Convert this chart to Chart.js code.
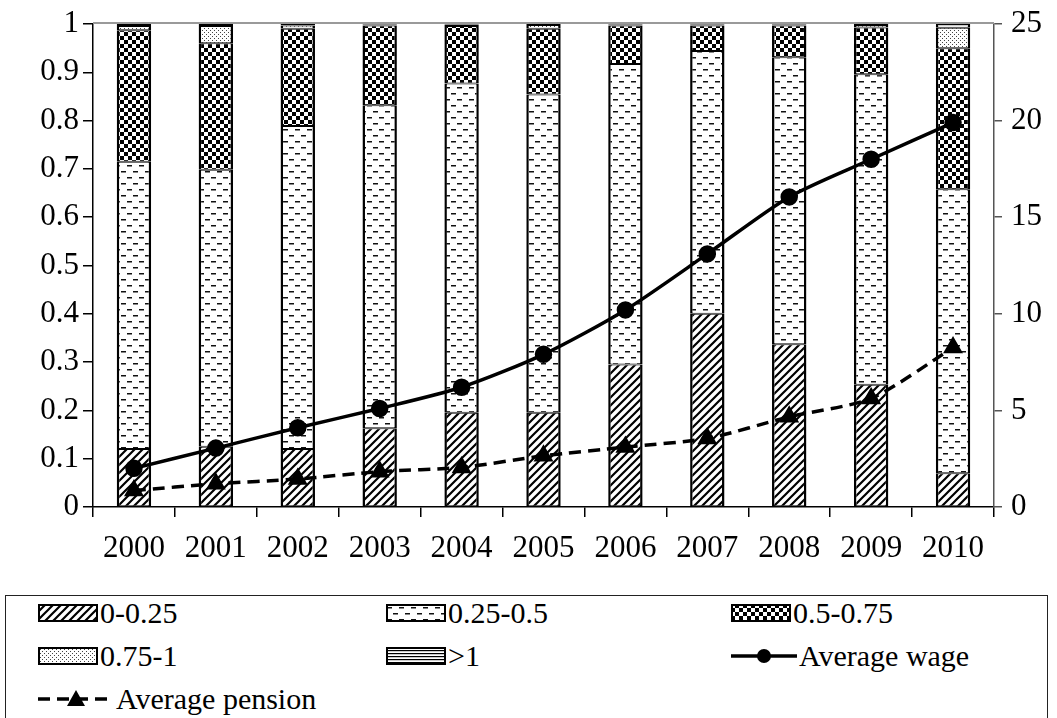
<!DOCTYPE html>
<html>
<head>
<meta charset="utf-8">
<script src="https://cdn.jsdelivr.net/npm/chart.js@4/dist/chart.umd.min.js"></script>
<style>
  html, body { margin: 0; padding: 0; background: #fff; }
  #wrap { position: relative; width: 1057px; height: 718px; overflow: hidden; background: #fff; }
  #chart { position: absolute; left: 0; top: 0; }
  #legend {
    position: absolute; left: 5px; top: 595px; width: 1043px; height: 140px;
    border: 1.5px solid #222; box-sizing: border-box;
    font-family: "Liberation Serif", "Times New Roman", serif; font-size: 30px; color: #000;
  }
  .item { position: absolute; display: flex; align-items: center; height: 30px; white-space: nowrap; }
  .item canvas { display: block; margin-right: 2px; }
</style>
</head>
<body>
<div id="wrap">
  <canvas id="chart" width="1057" height="575"></canvas>
  <div id="legend"></div>
</div>
<script>
// Years on the horizontal axis
const years = ['2000', '2001', '2002', '2003', '2004', '2005', '2006', '2007', '2008', '2009', '2010'];

// Share of people in each ratio band (stacked bars, left axis)
const band0to025   = [0.120, 0.125, 0.120, 0.163, 0.195, 0.195, 0.295, 0.400, 0.337, 0.253, 0.070];
const band025to05  = [0.595, 0.573, 0.669, 0.669, 0.682, 0.659, 0.622, 0.544, 0.594, 0.643, 0.588];
const band05to075  = [0.272, 0.262, 0.201, 0.165, 0.119, 0.136, 0.080, 0.053, 0.066, 0.097, 0.292];
const band075to1   = [0.009, 0.036, 0.007, 0.002, 0.003, 0.008, 0.002, 0.002, 0.002, 0.005, 0.042];
const bandAbove1   = [0.004, 0.004, 0.003, 0.001, 0.001, 0.002, 0.001, 0.001, 0.001, 0.002, 0.008];

// Average wage and pension (lines, right axis)
const avgWage    = [2.0, 3.05, 4.1, 5.1, 6.2, 7.9, 10.2, 13.1, 16.05, 18.0, 19.9];
const avgPension = [0.85, 1.2, 1.45, 1.83, 2.05, 2.65, 3.1, 3.55, 4.67, 5.62, 8.25];

// Tick labels
const leftTickLabels  = ['0', '0.1', '0.2', '0.3', '0.4', '0.5', '0.6', '0.7', '0.8', '0.9', '1'];
const rightTickLabels = ['0', '5', '10', '15', '20', '25'];

const SERIF = '"Liberation Serif", "Times New Roman", serif';

// ---- fill patterns ----
function tile(w, h, draw) {
  const c = document.createElement('canvas');
  c.width = w; c.height = h;
  const g = c.getContext('2d');
  g.fillStyle = '#fff';
  g.fillRect(0, 0, w, h);
  draw(g, w, h);
  return c;
}
const tiles = {
  hatch: tile(8, 8, (g) => {
    g.strokeStyle = '#000'; g.lineWidth = 2.2; g.lineCap = 'square';
    g.beginPath();
    g.moveTo(0, 8); g.lineTo(8, 0);
    g.moveTo(-4, 4); g.lineTo(4, -4);
    g.moveTo(4, 12); g.lineTo(12, 4);
    g.stroke();
  }),
  dashes: tile(12, 12, (g) => {
    g.fillStyle = '#111';
    g.fillRect(1, 3, 5, 1.5);
    g.fillRect(7, 9, 5, 1.5);
  }),
  checker: tile(8, 8, (g) => {
    g.fillStyle = '#000';
    g.fillRect(0, 0, 8, 8);
    g.fillStyle = '#fff';
    g.fillRect(0, 0, 4, 4);
    g.fillRect(4, 4, 4, 4);
  }),
  dots: tile(4, 4, (g) => {
    g.fillStyle = '#444';
    g.fillRect(0, 0, 1, 1);
    g.fillRect(2, 2, 1, 1);
  }),
  stripes: tile(4, 3, (g) => {
    g.fillStyle = '#000';
    g.fillRect(0, 0, 4, 1.2);
  })
};
const ctx = document.getElementById('chart').getContext('2d');
const pat = {};
for (const k in tiles) pat[k] = ctx.createPattern(tiles[k], 'repeat');

const barStyle = {
  type: 'bar',
  yAxisID: 'y',
  stack: 'bands',
  borderColor: '#000',
  borderWidth: { top: 1, bottom: 1, left: 2.5, right: 2.5 },
  borderSkipped: false,
  barPercentage: 0.42,
  categoryPercentage: 1.0,
  order: 3
};

const datasets = [
  Object.assign({ label: '0-0.25',   data: band0to025,  backgroundColor: pat.hatch },   barStyle),
  Object.assign({ label: '0.25-0.5', data: band025to05, backgroundColor: pat.dashes },  barStyle),
  Object.assign({ label: '0.5-0.75', data: band05to075, backgroundColor: pat.checker }, barStyle),
  Object.assign({ label: '0.75-1',   data: band075to1,  backgroundColor: pat.dots },    barStyle),
  Object.assign({ label: '>1',       data: bandAbove1,  backgroundColor: pat.stripes }, barStyle),
  {
    type: 'line', label: 'Average wage', data: avgWage, yAxisID: 'y2', order: 1,
    borderColor: '#000', borderWidth: 3.5, tension: 0.25,
    pointStyle: 'circle', pointRadius: 7, pointBackgroundColor: '#000', pointBorderColor: '#000'
  },
  {
    type: 'line', label: 'Average pension', data: avgPension, yAxisID: 'y2', order: 2,
    borderColor: '#000', borderWidth: 3.5, borderDash: [12, 7], tension: 0.25,
    pointStyle: 'triangle', pointRadius: 8, pointBackgroundColor: '#000', pointBorderColor: '#000'
  }
];

// thin grey frame line along the top of the plot area
const topFrame = {
  id: 'topFrame',
  beforeDatasetsDraw(chart) {
    const { ctx, chartArea } = chart;
    ctx.save();
    ctx.strokeStyle = '#9a9a9a';
    ctx.lineWidth = 2;
    ctx.beginPath();
    ctx.moveTo(chartArea.left, chartArea.top - 1);
    ctx.lineTo(chartArea.right, chartArea.top - 1);
    ctx.stroke();
    ctx.restore();
  }
};

const tickFont = { family: SERIF, size: 31 };

// fixed axis sizes so the plot area sits at a known place
function fixVertical(width) {
  return (s) => { s.width = width; s.paddingTop = 0; s.paddingBottom = 0; };
}

new Chart(ctx, {
  data: { labels: years, datasets },
  plugins: [topFrame],
  options: {
    responsive: false,
    animation: false,
    devicePixelRatio: 1,
    layout: { padding: { top: 24, left: 0, right: 0, bottom: 0 } },
    plugins: { legend: { display: false }, tooltip: { enabled: false } },
    scales: {
      x: {
        stacked: true,
        grid: { offset: true, drawOnChartArea: false, tickLength: 10, color: '#000', lineWidth: 1.5 },
        border: { color: '#000', width: 1.5 },
        ticks: { font: tickFont, color: '#000', padding: 13, maxRotation: 0 },
        afterFit(s) { s.height = 68; s.paddingLeft = 0; s.paddingRight = 0; }
      },
      y: {
        position: 'left', stacked: true, min: 0, max: 1,
        grid: { drawOnChartArea: false, tickLength: 10, color: '#000', lineWidth: 1.5 },
        border: { color: '#000', width: 1.5 },
        ticks: {
          stepSize: 0.1, font: tickFont, color: '#000', padding: 4,
          callback: (v, i) => leftTickLabels[i]
        },
        afterFit: fixVertical(93)
      },
      y2: {
        position: 'right', min: 0, max: 25,
        grid: { drawOnChartArea: false, tickLength: 8, color: '#555', lineWidth: 1.5 },
        border: { color: '#555', width: 1.5 },
        ticks: {
          stepSize: 5, font: tickFont, color: '#000', padding: 9,
          callback: (v, i) => rightTickLabels[i]
        },
        afterFit: fixVertical(63)
      }
    }
  }
});

// ---- legend ----
function swatchBox(p) {
  const c = document.createElement('canvas');
  c.width = 60; c.height = 18;
  const g = c.getContext('2d');
  g.fillStyle = g.createPattern(tiles[p], 'repeat');
  g.fillRect(0, 0, 60, 18);
  g.strokeStyle = '#000'; g.lineWidth = 2;
  g.strokeRect(1, 1, 58, 16);
  return c;
}
function swatchLine(dashed, marker) {
  const w = dashed ? 76 : 66;
  const c = document.createElement('canvas');
  c.width = w; c.height = 24;
  const g = c.getContext('2d');
  g.strokeStyle = '#000'; g.lineWidth = 3.5;
  if (dashed) g.setLineDash([12, 7]);
  g.beginPath(); g.moveTo(0, 12); g.lineTo(w, 12); g.stroke();
  g.setLineDash([]);
  g.fillStyle = '#000';
  const cx = w / 2;
  g.beginPath();
  if (marker === 'circle') {
    g.arc(cx, 12, 7, 0, Math.PI * 2);
  } else {
    g.moveTo(cx, 3); g.lineTo(cx + 9, 19); g.lineTo(cx - 9, 19); g.closePath();
  }
  g.fill();
  return c;
}
const legendItems = [
  { text: '0-0.25',          sw: () => swatchBox('hatch'),   x: 32,  y: 2 },
  { text: '0.25-0.5',        sw: () => swatchBox('dashes'),  x: 380, y: 2 },
  { text: '0.5-0.75',        sw: () => swatchBox('checker'), x: 725, y: 2 },
  { text: '0.75-1',          sw: () => swatchBox('dots'),    x: 32,  y: 45 },
  { text: '>1',              sw: () => swatchBox('stripes'), x: 380, y: 45 },
  { text: 'Average wage',    sw: () => swatchLine(false, 'circle'),  x: 725, y: 45 },
  { text: 'Average pension', sw: () => swatchLine(true, 'triangle'), x: 32,  y: 88 }
];
const legend = document.getElementById('legend');
legendItems.forEach(it => {
  const d = document.createElement('div');
  d.className = 'item';
  d.style.left = it.x + 'px';
  d.style.top = it.y + 'px';
  d.appendChild(it.sw());
  const s = document.createElement('span');
  s.textContent = it.text;
  d.appendChild(s);
  legend.appendChild(d);
});
</script>
</body>
</html>
